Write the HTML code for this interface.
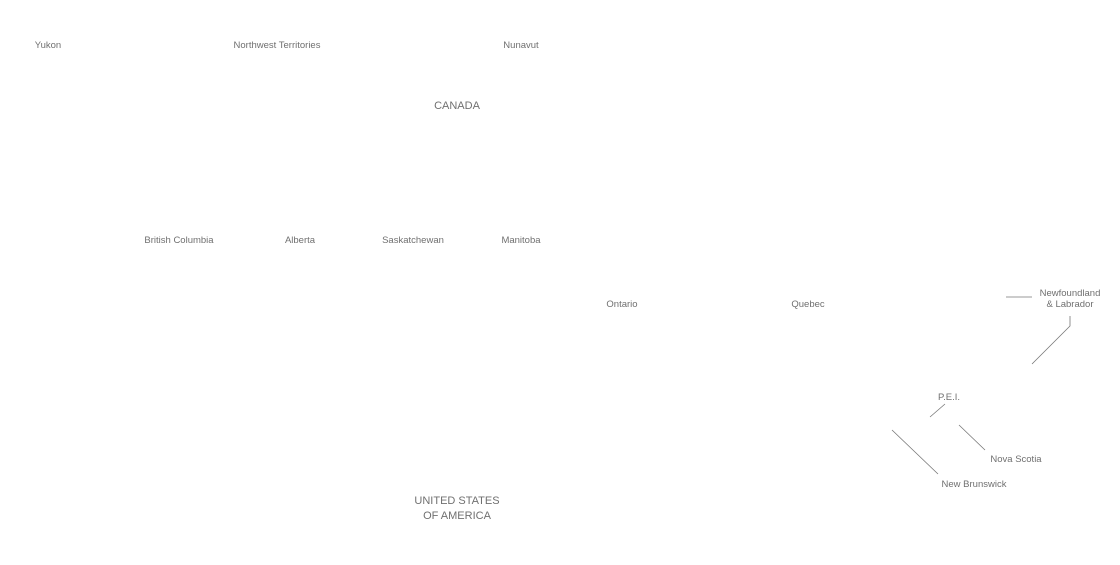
<!DOCTYPE html>
<html><head><style>
html,body{margin:0;padding:0;background:#fff;}
svg{display:block}
text{font-family:"Liberation Sans",sans-serif;fill:#707070;font-size:9.5px;text-anchor:middle}
.big{font-size:11px}
line,polyline{stroke:#777;stroke-width:0.8;fill:none}
</style></head><body>
<svg width="1120" height="565" viewBox="0 0 1120 565">
<text x="48" y="48">Yukon</text>
<text x="277" y="48">Northwest Territories</text>
<text x="521" y="48">Nunavut</text>
<text class="big" x="457" y="109">CANADA</text>
<text x="179" y="243">British Columbia</text>
<text x="300" y="243">Alberta</text>
<text x="413" y="243">Saskatchewan</text>
<text x="521" y="243">Manitoba</text>
<text x="622" y="307">Ontario</text>
<text x="808" y="307">Quebec</text>
<text x="1070" y="296">Newfoundland</text>
<text x="1070" y="307">&amp; Labrador</text>
<text x="949" y="400">P.E.I.</text>
<text x="1016" y="462">Nova Scotia</text>
<text x="974" y="487">New Brunswick</text>
<text class="big" x="457" y="504">UNITED STATES</text>
<text class="big" x="457" y="519">OF AMERICA</text>
<line x1="1006" y1="297" x2="1032" y2="297"/>
<polyline points="1070,316 1070,326 1032,364"/>
<line x1="945" y1="404" x2="930" y2="417"/>
<line x1="959" y1="425" x2="985" y2="450"/>
<line x1="892" y1="430" x2="938" y2="474"/>
</svg>
</body></html>
